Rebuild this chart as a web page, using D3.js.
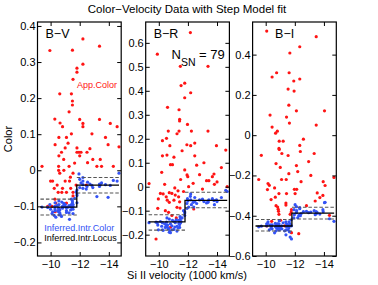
<!DOCTYPE html>
<html lang="en">
<head>
<meta charset="UTF-8">
<title>Color-Velocity Data with Step Model fit</title>
<script src="https://d3js.org/d3.v7.min.js"></script>
<style>
  body { margin: 0; background: #fff; }
  svg { display: block; font-family: "Liberation Sans", Arial, sans-serif; }
  .tick text { font-size: 11px; fill: #000; }
</style>
</head>
<body>
<div id="chart"></div>
<script>
// ---- data ----
// B-V panel: Si II velocity (1000 km/s), apparent colour, inferred intrinsic colour
const bvVel = [-9.95,-12.22,-13.36,-11.5,-12.22,-11.81,-11.81,-11.54,-10.63,-11.43,-11.5,-11.5,-11.27,-10.29,-12.0,-13.36,-10.65,-12.22,-12.22,-10.82,
  -14.57,-11.43,-12.84,-10.57,-11.09,-13.77,-10.31,-13.95,-11.0,-11.81,-10.75,-11.81,-11.95,-12.09,-12.5,-10.57,-12.0,-13.41,-12.54,-9.41,
  -10.55,-11.27,-13.18,-13.5,-14.31,-10.55,-10.91,-10.63,-11.54,-11.36,-10.0,-10.14,-11.0,-11.3,-10.45,-11.75,-12.45,-10.25,-10.82,-11.38,
  -10.52,-10.77,-11.09,-11.54,-11.54,-10.3,-10.36,-11.09,-9.8,-10.1,-10.32,-10.6,-12.9,-14.7,-11.2,-10.9,-12.7,-14.1,-11.65];
const bvApp = [0.332,0.364,0.344,0.333,0.294,0.283,0.272,0.252,0.212,0.212,0.192,0.181,0.162,0.142,0.141,0.141,0.131,0.130,0.121,0.121,
  0.121,0.101,0.101,0.091,0.091,0.091,0.071,0.071,0.062,0.062,0.050,0.050,0.050,0.050,0.050,0.040,0.040,0.030,0.021,0.011,
  0.011,0.011,0.011,0.011,0.011,0.0,0.0,-0.008,-0.008,-0.019,-0.030,-0.030,-0.030,-0.030,-0.041,-0.041,-0.041,-0.050,-0.050,-0.050,
  -0.061,-0.061,-0.061,-0.061,-0.071,-0.080,-0.091,-0.091,-0.100,-0.100,-0.115,-0.108,0.030,0.065,0.075,0.030,0.060,0.130,0.020];
const bvIntr = [-0.095,-0.030,-0.045,-0.085,-0.040,-0.070,-0.090,-0.100,-0.110,-0.095,-0.105,-0.090,-0.118,-0.100,-0.025,-0.038,-0.122,-0.050,-0.020,-0.105,
  -0.030,-0.080,-0.042,-0.095,-0.112,-0.040,-0.090,-0.075,-0.100,-0.065,-0.128,-0.055,-0.010,-0.035,-0.045,-0.085,-0.048,-0.040,-0.033,-0.102,
  -0.115,-0.098,-0.073,-0.035,-0.028,-0.105,-0.092,-0.118,-0.108,-0.100,-0.108,-0.115,-0.095,-0.136,-0.098,-0.060,-0.052,-0.125,-0.100,-0.110,
  -0.112,-0.088,-0.104,-0.095,-0.120,-0.107,-0.130,-0.117,-0.103,-0.120,-0.112,-0.124,-0.048,-0.008,-0.102,-0.098,-0.038,-0.042,-0.078];

// B-R panel
const brVel = [-12.17,-9.9,-11.48,-13.38,-11.78,-11.53,-12.19,-11.78,-10.6,-11.39,-11.43,-11.43,-11.97,-10.65,-11.39,-12.24,-13.38,-11.25,-10.53,-10.25,
  -12.47,-10.76,-12.19,-13.96,-14.6,-11.93,-10.25,-10.56,-11.04,-12.47,-10.8,-10.94,-11.78,-11.94,-11.99,-13.79,-13.68,-13.28,-13.44,-12.36,
  -13.82,-9.33,-10.11,-10.3,-10.51,-10.72,-10.9,-11.13,-11.32,-11.36,-9.97,-10.58,-11.43,-11.04,-10.72,-9.93,-11.46,-10.67,-11.25,-12.4,
  -10.8,-9.81,-11.6,-10.4,-11.1,-12.8,-14.3,-13.1,-11.7,-10.9,-11.2,-10.45,-12.05,-13.0,-14.0,-10.2,-11.5,-12.6,-14.7];
const brApp = [0.643,0.553,0.502,0.502,0.432,0.422,0.392,0.371,0.331,0.321,0.281,0.274,0.260,0.232,0.232,0.232,0.232,0.221,0.202,0.192,
  0.182,0.171,0.171,0.171,0.153,0.175,0.129,0.132,0.123,0.129,0.092,0.092,0.070,0.049,0.042,0.053,0.042,0.025,0.025,0.014,
  0.010,0.013,-0.028,-0.030,-0.042,-0.025,-0.028,-0.035,-0.017,-0.042,-0.051,-0.056,-0.063,-0.056,-0.065,-0.090,-0.089,-0.107,-0.086,-0.093,
  -0.169,-0.218,0.150,0.010,-0.005,0.050,0.080,0.100,-0.020,-0.120,-0.130,-0.100,0.000,-0.010,0.020,0.060,0.030,0.090,0.000];
const brIntr = [-0.040,-0.150,-0.135,-0.065,-0.110,-0.145,-0.055,-0.120,-0.160,-0.150,-0.170,-0.140,-0.050,-0.175,-0.155,-0.075,-0.060,-0.165,-0.148,-0.180,
  -0.062,-0.185,-0.030,-0.055,-0.015,-0.070,-0.150,-0.130,-0.178,-0.045,-0.155,-0.140,-0.105,-0.090,-0.060,-0.058,-0.050,-0.068,-0.055,-0.065,
  -0.075,-0.150,-0.145,-0.182,-0.160,-0.190,-0.163,-0.150,-0.172,-0.140,-0.180,-0.168,-0.158,-0.145,-0.135,-0.160,-0.125,-0.175,-0.185,-0.085,
  -0.192,-0.148,-0.130,-0.155,-0.168,-0.055,-0.045,-0.062,-0.100,-0.180,-0.138,-0.170,-0.085,-0.052,-0.062,-0.165,-0.150,-0.070,-0.020];

// B-I panel
const biVel = [-10.07,-13.47,-12.34,-11.66,-10.75,-11.61,-10.44,-12.34,-11.93,-11.54,-11.95,-11.59,-12.11,-14.04,-11.43,-11.63,-13.47,-10.44,-10.8,-10.68,
  -10.93,-11.2,-12.59,-12.34,-10.91,-10.93,-11.11,-12.38,-11.54,-13.33,-10.71,-12.11,-12.95,-12.2,-11.59,-9.52,-10.16,-10.25,-10.12,-10.61,
  -11.09,-11.41,-11.97,-12.13,-12.43,-13.95,-14.69,-10.91,-11.43,-12.02,-13.54,-10.37,-10.66,-13.72,-13.93,-11.39,-11.39,-10.71,-10.82,-10.86,
  -10.88,-10.91,-11.68,-11.75,-11.77,-13.4,-10.41,-11.02,-10.07,-11.77,-12.27,-14.38,-14.08,-9.7,-10.3,-11.3,-12.8,-13.1,-11.0];
const biApp = [0.517,0.489,0.439,0.408,0.310,0.310,0.289,0.279,0.269,0.229,0.219,0.149,0.121,0.121,0.090,0.060,0.050,0.040,0.020,0.010,
  -0.030,-0.030,-0.020,-0.051,-0.066,-0.071,-0.091,-0.081,-0.101,-0.091,-0.141,-0.151,-0.131,-0.181,-0.191,-0.220,-0.240,-0.249,-0.270,-0.262,
  -0.220,-0.220,-0.269,-0.269,-0.231,-0.231,-0.210,-0.290,-0.290,-0.290,-0.287,-0.320,-0.308,-0.310,-0.299,-0.337,-0.347,-0.350,-0.357,-0.368,
  -0.378,-0.393,-0.393,-0.382,-0.370,-0.327,-0.428,-0.423,-0.451,-0.484,-0.489,-0.398,-0.250,-0.100,0.100,-0.450,-0.350,-0.200,-0.160];
const biIntr = [-0.450,-0.380,-0.360,-0.440,-0.460,-0.430,-0.445,-0.395,-0.410,-0.470,-0.370,-0.455,-0.385,-0.335,-0.440,-0.480,-0.390,-0.465,-0.440,-0.455,
  -0.470,-0.435,-0.380,-0.365,-0.450,-0.425,-0.465,-0.400,-0.445,-0.375,-0.475,-0.355,-0.385,-0.410,-0.460,-0.455,-0.430,-0.470,-0.440,-0.485,
  -0.450,-0.470,-0.395,-0.375,-0.390,-0.380,-0.428,-0.440,-0.455,-0.345,-0.385,-0.460,-0.438,-0.392,-0.370,-0.430,-0.495,-0.450,-0.465,-0.442,
  -0.458,-0.470,-0.506,-0.420,-0.450,-0.395,-0.448,-0.462,-0.440,-0.515,-0.400,-0.415,-0.333,-0.452,-0.445,-0.475,-0.378,-0.382,-0.458];

// step model: velocity start / break / end, and [low-vel, high-vel] levels
const stepVel = [-9.3, -11.8, -14.7];
const bvStepMid = [-0.102, -0.041], bvStepHi = [-0.080, -0.020], bvStepLo = [-0.124, -0.063];
const brStepMid = [-0.147, -0.057], brStepHi = [-0.117, -0.023], brStepLo = [-0.181, -0.088];
const biStepMid = [-0.451, -0.387], biStepHi = [-0.419, -0.358], biStepLo = [-0.476, -0.416];

// ticks
const xTicks = [-10, -12, -14];
const bvTicks = [-0.2, -0.1, 0, 0.1, 0.2, 0.3, 0.4];
const brTicks = [-0.2, -0.1, 0, 0.1, 0.2, 0.3, 0.4, 0.5, 0.6];
const biTicks = [-0.6, -0.4, -0.2, 0, 0.2, 0.4];

// ---- layout ----
const W = 378, H = 285;
const plotTop = 22, plotBottom = 256, plotW = 83.7;
const red = "#ff1414", blue = "#3352f5";

const panels = [
  {label: "B\u2212V", left: 37.5, vel: bvVel, app: bvApp, intr: bvIntr, yDomain: [-0.2376, 0.411], ticks: bvTicks,
   mid: bvStepMid, hi: bvStepHi, lo: bvStepLo},
  {label: "B\u2212R", left: 145.7, vel: brVel, app: brApp, intr: brIntr, yDomain: [-0.289, 0.687], ticks: brTicks,
   mid: brStepMid, hi: brStepHi, lo: brStepLo},
  {label: "B\u2212I", left: 252.6, vel: biVel, app: biApp, intr: biIntr, yDomain: [-0.6, 0.562], ticks: biTicks,
   mid: biStepMid, hi: biStepHi, lo: biStepLo}
];

const fmt = d => d === 0 ? "0" : d3.format(".1f")(d);

const svg = d3.select("#chart").append("svg")
  .attr("width", W)
  .attr("height", H);

svg.append("rect").attr("width", W).attr("height", H).attr("fill", "#fff");

panels.forEach((p, pi) => {
  const g = svg.append("g").attr("transform", `translate(${p.left},0)`);
  const x = d3.scaleLinear().domain([-9.1, -14.85]).range([0, plotW]);
  const y = d3.scaleLinear().domain(p.yDomain).range([plotBottom, plotTop]);

  // points
  g.append("g").selectAll("circle")
    .data(p.vel.map((v, i) => [v, p.app[i]]))
    .join("circle")
      .attr("cx", d => x(d[0]))
      .attr("cy", d => y(d[1]))
      .attr("r", 1.6)
      .attr("fill", red);

  g.append("g").selectAll("circle")
    .data(p.vel.map((v, i) => [v, p.intr[i]]))
    .join("circle")
      .attr("cx", d => x(d[0]))
      .attr("cy", d => y(d[1]))
      .attr("r", 1.6)
      .attr("fill", blue);

  // step model
  const line = d3.line().x(d => x(d[0])).y(d => y(d[1]));
  [p.hi, p.lo].forEach(lv => {
    g.append("path")
      .attr("d", line([[stepVel[0], lv[0]], [stepVel[1], lv[0]]]))
      .attr("fill", "none").attr("stroke", "#555").attr("stroke-width", 1.1)
      .attr("stroke-dasharray", "3.5,2");
    g.append("path")
      .attr("d", line([[stepVel[1], lv[1]], [stepVel[2], lv[1]]]))
      .attr("fill", "none").attr("stroke", "#555").attr("stroke-width", 1.1)
      .attr("stroke-dasharray", "3.5,2");
  });
  g.append("path")
    .attr("d", line([[stepVel[0], p.mid[0]], [stepVel[1], p.mid[0]], [stepVel[1], p.mid[1]], [stepVel[2], p.mid[1]]]))
    .attr("fill", "none").attr("stroke", "#000").attr("stroke-width", 1.3);

  // axes, ticks inward on all four sides
  const gl = g.append("g").call(d3.axisLeft(y).tickValues(p.ticks).tickSize(-4).tickPadding(2).tickFormat(fmt));
  const gr = g.append("g").attr("transform", `translate(${plotW},0)`)
    .call(d3.axisRight(y).tickValues(p.ticks).tickSize(-4).tickFormat(""));
  const gb = g.append("g").attr("transform", `translate(0,${plotBottom})`)
    .call(d3.axisBottom(x).tickValues(xTicks).tickSize(-4).tickPadding(4).tickFormat(d3.format("d")));
  const gt = g.append("g").attr("transform", `translate(0,${plotTop})`)
    .call(d3.axisTop(x).tickValues(xTicks).tickSize(-4).tickFormat(""));
  [gl, gr, gb, gt].forEach(a => {
    a.select(".domain").remove();
    a.selectAll(".tick line").attr("stroke", "#000");
    a.selectAll(".tick text").style("font-family", "'Liberation Sans', Arial, sans-serif").style("font-size", "11px");
  });

  g.append("rect")
    .attr("x", 0).attr("y", plotTop)
    .attr("width", plotW).attr("height", plotBottom - plotTop)
    .attr("fill", "none").attr("stroke", "#000").attr("stroke-width", 1.2);

  g.append("text")
    .attr("x", pi === 2 ? 22.5 : (pi === 1 ? 8 : 8))
    .attr("y", 38.3)
    .style("font-size", "12.5px")
    .text(p.label);
});

// N_SN annotation in the B-R panel
const nsn = svg.append("text").attr("x", 171.5).attr("y", 59.3).style("font-size", "13px");
nsn.append("tspan").text("N");
nsn.append("tspan").attr("dy", 7).style("font-size", "10.5px").text("SN");
nsn.append("tspan").attr("dy", -7).text(" = 79");

// legend texts in the B-V panel
svg.append("text").attr("x", 77).attr("y", 88.3)
  .style("font-size", "9px").attr("fill", red).text("App.Color");
svg.append("text").attr("x", 44.3).attr("y", 230.7)
  .style("font-size", "9px").attr("fill", blue).text("Inferred.Intr.Color");
svg.append("text").attr("x", 44.3).attr("y", 240.5)
  .style("font-size", "9px").attr("fill", "#000").text("Inferred.Intr.Locus");

// title and axis labels
svg.append("text").attr("x", 187).attr("y", 12.5)
  .attr("text-anchor", "middle").style("font-size", "11.5px")
  .text("Color\u2212Velocity Data with Step Model fit");
svg.append("text").attr("x", 187).attr("y", 279)
  .attr("text-anchor", "middle").style("font-size", "11px")
  .text("Si II velocity (1000 km/s)");
svg.append("text")
  .attr("transform", "translate(11.5,139) rotate(-90)")
  .attr("text-anchor", "middle").style("font-size", "11px")
  .text("Color");
</script>
</body>
</html>
